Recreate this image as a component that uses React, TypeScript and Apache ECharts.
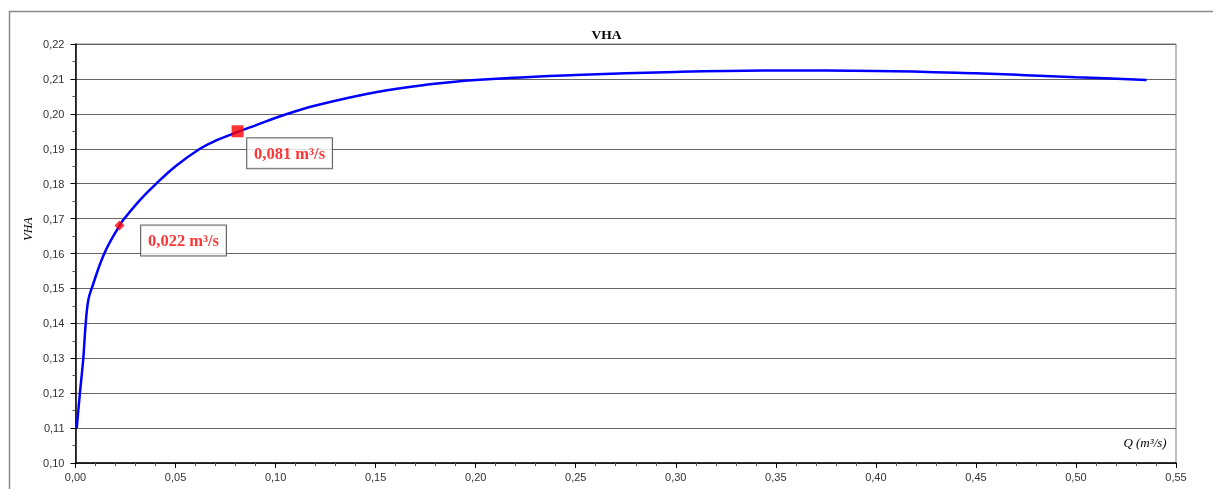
import React, { useEffect, useRef } from "react";
import * as echarts from "echarts";

const qValues = [0.0006, 0.0022, 0.0039, 0.0051, 0.0064, 0.0081, 0.0144, 0.022, 0.0244, 0.0322, 0.040, 0.050, 0.0622, 0.070, 0.081, 0.090, 0.1039, 0.120, 0.150, 0.175, 0.200, 0.250, 0.300, 0.350, 0.400, 0.450, 0.500, 0.5353];
const vhaValues = [0.110, 0.120, 0.130, 0.140, 0.1467, 0.150, 0.160, 0.168, 0.170, 0.1753, 0.1798, 0.1850, 0.1900, 0.1923, 0.1948, 0.1967, 0.1996, 0.2024, 0.2062, 0.2083, 0.2097, 0.2111, 0.2120, 0.2124, 0.2123, 0.2116, 0.2105, 0.2097];

const pointA = [0.022, 0.168];
const pointALabel = "0,022 m³/s";
const pointB = [0.081, 0.195];
const pointBLabel = "0,081 m³/s";

const titleText = "VHA";
const xName = "Q (m³/s)";
const yName = "VHA";

const fmt = (v: number) => v.toFixed(2).replace(".", ",");

export default function App() {
  const ref = useRef<HTMLDivElement>(null);
  useEffect(() => {
    if (!ref.current) return;
    const chart = echarts.init(ref.current, null, { renderer: "svg" });
    const labelBox = {
      show: true,
      color: "#ff0000",
      fontFamily: "Liberation Serif",
      fontWeight: "bold",
      fontSize: 16.5,
      backgroundColor: "#ffffff",
      borderColor: "#404040",
      borderWidth: 1,
      padding: [7, 7, 6, 7],
      position: "inside",
    };
    chart.setOption({
      animation: false,
      title: {
        text: titleText,
        left: "center",
        top: 22,
        textStyle: { fontFamily: "Liberation Serif", fontWeight: "bold", fontSize: 13.5, color: "#000" },
      },
      grid: { left: 75.5, right: 37, top: 44, bottom: 26, show: true, borderColor: "#808080", borderWidth: 1, containLabel: false },
      xAxis: {
        type: "value",
        min: 0,
        max: 0.55,
        interval: 0.05,
        axisLine: { show: true, onZero: false, lineStyle: { color: "#000", width: 1.5 } },
        axisTick: { show: true, length: 5, lineStyle: { color: "#000" } },
        minorTick: { show: true, splitNumber: 5, length: 3, lineStyle: { color: "#555" } },
        splitLine: { show: false },
        axisLabel: { formatter: fmt, fontFamily: "Liberation Sans", fontSize: 11, color: "#333", margin: 8 },
      },
      yAxis: {
        type: "value",
        min: 0.1,
        max: 0.22,
        interval: 0.01,
        axisLine: { show: true, onZero: false, lineStyle: { color: "#000", width: 1.5 } },
        axisTick: { show: true, length: 5, lineStyle: { color: "#000" } },
        minorTick: { show: true, splitNumber: 2, length: 3, lineStyle: { color: "#555" } },
        splitLine: { show: true, lineStyle: { color: "#666666", width: 1 } },
        axisLabel: { formatter: fmt, fontFamily: "Liberation Sans", fontSize: 11, color: "#333", margin: 11 },
      },
      graphic: [
        {
          type: "rect",
          shape: { x: 9.5, y: 11.5, width: 1400, height: 700 },
          style: { fill: "none", stroke: "#8a8a8a", lineWidth: 1.5 },
          silent: true,
        },
        {
          type: "text",
          x: 1145,
          y: 442,
          style: { text: xName, fontFamily: "Liberation Serif", fontStyle: "italic", fontSize: 13, fill: "#000", align: "center", verticalAlign: "middle" },
        },
        {
          type: "text",
          x: 28,
          y: 229,
          rotation: Math.PI / 2,
          style: { text: yName, fontFamily: "Liberation Serif", fontStyle: "italic", fontSize: 12, fill: "#000", align: "center", verticalAlign: "middle" },
        },
      ],
      series: [
        {
          type: "line",
          data: qValues.map((q, i) => [q, vhaValues[i]]),
          smooth: 0.4,
          showSymbol: false,
          lineStyle: { color: "#0000ff", width: 2.5 },
          z: 2,
        },
        {
          type: "scatter",
          data: [pointA],
          symbol: "diamond",
          symbolSize: [10, 10],
          itemStyle: { color: "#ff0000" },
          label: { ...labelBox, formatter: pointALabel, offset: [64, 15] },
          z: 3,
        },
        {
          type: "scatter",
          data: [pointB],
          symbol: "rect",
          symbolSize: 12,
          itemStyle: { color: "#ff0000" },
          label: { ...labelBox, formatter: pointBLabel, offset: [52, 22] },
          z: 3,
        },
      ],
    });
    return () => chart.dispose();
  }, []);
  return <div ref={ref} style={{ position: "fixed", left: 0, top: 0, width: 1213, height: 489 }} />;
}
